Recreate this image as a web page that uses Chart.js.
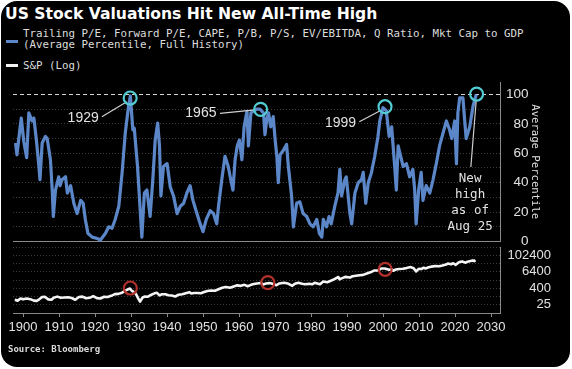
<!DOCTYPE html>
<html>
<head>
<meta charset="utf-8">
<script src="https://cdn.jsdelivr.net/npm/chart.js@4.4.1/dist/chart.umd.min.js"></script>
<style>
  html, body { margin: 0; padding: 0; background: #fff; }
  #wrap { position: relative; width: 572px; height: 369px; overflow: hidden; background: #fff; }
  #card { position: absolute; left: 1px; top: 1px; width: 569px; height: 366px; background: #000; border-radius: 16px; }
  canvas { position: absolute; left: 0; top: 0; }
  .txt { position: absolute; white-space: nowrap; color: #dcdcdc; }
  #title { left: 5px; top: 4px; font: bold 15.6px 'DejaVu Sans', sans-serif; line-height: 20px; color: #fff; }
  .leg { left: 23px; font: 10.8px 'DejaVu Sans Mono', monospace; line-height: 13px; }
  .swatch { position: absolute; left: 6px; width: 12px; height: 3px; }
  #source { left: 8px; top: 343px; font: bold 9px 'DejaVu Sans Mono', monospace; line-height: 13px; }
</style>
</head>
<body>
<div id="wrap">
  <div id="card"></div>
  <div id="title" class="txt">US Stock Valuations Hit New All-Time High</div>
  <div class="swatch" style="top:40px;background:#5b87c9"></div>
  <div class="txt leg" style="top:27px">Trailing P/E, Forward P/E, CAPE, P/B, P/S, EV/EBITDA, Q Ratio, Mkt Cap to GDP</div>
  <div class="txt leg" style="top:38px">(Average Percentile, Full History)</div>
  <div class="swatch" style="top:64px;background:#f2f2f2"></div>
  <div class="txt leg" style="top:59px">S&amp;P (Log)</div>
  <canvas id="topChart" width="572" height="369"></canvas>
  <canvas id="bottomChart" width="572" height="369"></canvas>
  <div id="source" class="txt">Source: Bloomberg</div>
</div>
<script>
// valuation percentile (blue line)
const pctYears = [
  1897.9, 1898.3, 1899.1, 1899.5, 1900.2, 1901.0, 1901.6, 1902.5, 1903.0, 1903.7,
  1904.4, 1904.7, 1905.3, 1906.2, 1906.7, 1907.6, 1908.1, 1908.4, 1909.0, 1909.9,
  1910.3, 1910.8, 1911.8, 1912.3, 1913.2, 1914.1, 1915.0, 1916.0, 1916.7, 1917.3,
  1918.0, 1919.2, 1920.6, 1921.5, 1922.9, 1923.8, 1924.7, 1925.6, 1926.6, 1927.5,
  1928.4, 1929.3, 1929.8, 1930.5, 1930.9, 1931.8, 1932.6, 1933.0, 1933.7, 1934.4,
  1935.3, 1936.1, 1936.7, 1937.4, 1937.9, 1938.3, 1939.0, 1940.0, 1940.9, 1941.8,
  1942.8, 1943.7, 1944.6, 1945.5, 1946.4, 1947.2, 1948.3, 1949.2, 1950.0, 1950.9,
  1952.0, 1952.9, 1953.8, 1954.3, 1955.2, 1956.1, 1957.0, 1957.7, 1958.3, 1958.9,
  1959.5, 1960.1, 1960.8, 1961.4, 1962.2, 1962.6, 1963.3, 1964.0, 1964.9, 1965.8,
  1966.8, 1967.2, 1967.7, 1968.2, 1968.8, 1969.5, 1970.0, 1970.5, 1970.9, 1971.4,
  1972.3, 1973.2, 1973.7, 1974.6, 1975.1, 1976.0, 1976.9, 1977.8, 1978.8, 1979.7,
  1980.6, 1981.6, 1982.3, 1983.0, 1983.4, 1984.3, 1985.0, 1985.6, 1986.6, 1987.5,
  1988.0, 1988.5, 1989.4, 1989.8, 1990.8, 1991.3, 1992.2, 1993.1, 1994.0, 1994.5,
  1995.2, 1995.9, 1996.8, 1997.7, 1998.6, 1999.1, 2000.0, 2000.9, 2001.7, 2002.4,
  2002.8, 2003.3, 2003.7, 2004.2, 2004.9, 2005.6, 2006.5, 2007.4, 2008.3, 2008.8,
  2009.2, 2009.9, 2010.6, 2011.1, 2012.0, 2013.0, 2013.9, 2014.8, 2015.7, 2016.7,
  2017.6, 2018.5, 2019.1, 2019.9, 2020.4, 2020.8, 2021.3, 2022.2, 2022.7, 2023.1,
  2024.1, 2025.0, 2025.9
];
const pctValues = [
  67, 59, 76, 84, 68, 57, 87.5, 82, 84, 69,
  51, 42, 67, 71.5, 70, 55.6, 35, 17, 35, 44,
  38, 42, 44, 33, 38, 26, 19, 28, 26, 15,
  5.6, 3, 2, 1, 5.6, 10, 9, 15, 24, 46.5,
  74, 92, 99, 76, 77, 51, 19, 3, 33, 35,
  17, 44, 69, 80.6, 65, 31, 51, 53, 37, 31,
  19, 24, 26, 33, 38, 28, 19, 12, 6.7, 15,
  21, 19, 12, 24, 42, 58, 51, 42, 35, 55.6,
  65, 69, 55.6, 78, 88.6, 65, 87.5, 88.6, 90, 90,
  87.5, 72.7, 83, 87.5, 78, 85, 70, 58, 40, 59,
  62, 66, 51, 31, 10, 26, 27, 19, 17, 12,
  10, 15, 5.6, 3, 15, 10, 17, 12, 24, 33,
  49, 31, 42, 44, 19, 12, 33, 40, 42, 47,
  26, 40, 47, 58, 71.5, 82, 91, 89, 71.5, 78,
  65, 49, 35, 65, 58, 51, 53, 44, 49, 35,
  12, 35, 47, 28, 38, 33, 42, 53, 65, 74,
  82, 76, 70, 82, 53, 87.5, 97.7, 97.7, 82, 70,
  78, 92, 100
];

// index level (white line, log scale)
const spYears = [
  1897.7, 1898.5, 1899.3, 1900.0, 1901.0, 1902.0, 1903.0, 1903.8, 1904.5, 1905.3,
  1906.0, 1907.0, 1907.9, 1908.5, 1909.5, 1910.5, 1911.5, 1912.5, 1913.5, 1914.5,
  1915.5, 1916.5, 1917.5, 1918.5, 1919.5, 1920.5, 1921.5, 1922.5, 1923.5, 1924.5,
  1925.5, 1926.5, 1927.5, 1928.5, 1929.7, 1930.2, 1930.6, 1931.3, 1931.9, 1932.5,
  1933.2, 1933.9, 1934.6, 1935.5, 1936.5, 1937.2, 1937.9, 1938.6, 1939.5, 1940.4,
  1941.3, 1942.3, 1943.2, 1944.2, 1945.2, 1946.2, 1946.8, 1947.5, 1948.5, 1949.4,
  1950.3, 1951.2, 1952.2, 1953.3, 1954.3, 1955.3, 1956.3, 1957.5, 1958.5, 1959.5,
  1960.5, 1961.5, 1962.4, 1963.5, 1964.5, 1966.0, 1966.7, 1967.5, 1968.5, 1969.5,
  1970.4, 1971.2, 1972.5, 1973.5, 1974.8, 1975.5, 1976.5, 1977.5, 1978.3, 1979.5,
  1980.3, 1981.0, 1982.5, 1983.4, 1984.5, 1985.5, 1986.5, 1987.6, 1987.9, 1988.5,
  1989.5, 1990.8, 1991.5, 1992.5, 1993.5, 1994.5, 1995.5, 1996.5, 1997.5, 1998.7,
  1999.5, 2000.5, 2001.7, 2002.5, 2002.8, 2003.6, 2004.5, 2005.5, 2006.5, 2007.7,
  2008.5, 2009.2, 2009.9, 2010.6, 2011.3, 2011.8, 2012.5, 2013.5, 2014.5, 2015.6,
  2016.5, 2017.5, 2018.0, 2018.9, 2019.5, 2020.2, 2020.9, 2021.5, 2022.0, 2022.8,
  2023.5, 2024.3, 2024.9, 2025.3, 2025.7
];
const spValues = [
  57, 50, 72, 62, 72, 64, 50, 48, 62, 92,
  96, 62, 58, 80, 98, 80, 84, 88, 78, 58,
  92, 98, 74, 80, 106, 76, 72, 96, 92, 112,
  150, 155, 190, 280, 381, 260, 230, 160, 80, 42,
  85, 100, 95, 130, 170, 185, 120, 145, 145, 125,
  118, 100, 135, 145, 175, 205, 165, 178, 180, 172,
  210, 255, 275, 265, 340, 440, 500, 430, 540, 650,
  600, 710, 560, 740, 860, 980, 760, 880, 950, 820,
  660, 900, 1000, 900, 600, 840, 990, 850, 780, 840,
  780, 990, 780, 1230, 1100, 1400, 1850, 2650, 1800, 2100,
  2700, 2400, 3000, 3300, 3600, 3800, 4700, 5800, 7800, 8000,
  11000, 11000, 9000, 9500, 7600, 9300, 10200, 10500, 11800, 14000,
  11500, 6800, 10300, 10200, 12500, 11000, 13000, 15200, 16800, 16000,
  18000, 21500, 25500, 22500, 26800, 20500, 29500, 34500, 36300, 29500,
  34500, 39000, 43000, 38500, 45500
];

const yearTicks = [1900, 1910, 1920, 1930, 1940, 1950, 1960, 1970, 1980, 1990, 2000, 2010, 2020, 2030];
const pctTicks = [0, 10, 20, 30, 40, 50, 60, 70, 80, 90, 100];
const pctLabels = [0, 20, 40, 60, 80, 100];
const logTicks = [6.25, 25, 100, 400, 1600, 6400, 25600, 102400, 409600];
const logLabels = [25, 400, 6400, 102400];

// highlighted peaks: [year, value]
const peakMarks = [[1929.75, 97.6], [1966.0, 89.9], [2000.55, 91.7], [2026.0, 100.3]];
const indexMarks = [[1929.8, 417], [1968.0, 1020], [2000.6, 9700]];

const BLUE = '#5b87c9';
const AXIS = '#8a8a8a';
const GRID = '#3c3c3c';
const TEXT = '#e2e2e2';
const AXIS_FONT = "'Liberation Sans', Arial, sans-serif";
const MONO = "'DejaVu Sans Mono', monospace";
const X_MIN = 1897.2, X_MAX = 2032.5;

// rings, leader lines and callout text, all placed in data units
const marksPlugin = {
  id: 'marks',
  afterDatasetsDraw(chart, args, opts) {
    const { ctx, chartArea, scales: { x, y } } = chart;
    ctx.save();
    (opts.leaders || []).forEach(l => {
      ctx.strokeStyle = opts.leaderColor;
      ctx.lineWidth = 1.2;
      ctx.beginPath();
      ctx.moveTo(x.getPixelForValue(l[0]), y.getPixelForValue(l[1]));
      ctx.lineTo(x.getPixelForValue(l[2]), y.getPixelForValue(l[3]));
      ctx.stroke();
    });
    (opts.rings || []).forEach(r => {
      ctx.strokeStyle = opts.ringColor;
      ctx.lineWidth = 2.2;
      ctx.beginPath();
      ctx.arc(x.getPixelForValue(r[0]), y.getPixelForValue(r[1]), opts.radius, 0, Math.PI * 2);
      ctx.stroke();
    });
    ctx.fillStyle = TEXT;
    ctx.textAlign = 'center';
    ctx.textBaseline = 'middle';
    (opts.labels || []).forEach(l => {
      ctx.font = l.font;
      const px = x.getPixelForValue(l.x), py = y.getPixelForValue(l.y);
      l.lines.forEach((t, i) => ctx.fillText(t, px, py + i * (l.gap || 0)));
    });
    // rotated axis title, reading top to bottom, right of the tick labels
    if (opts.axisTitle) {
      ctx.font = opts.axisTitle.font;
      ctx.translate(chartArea.right + opts.axisTitle.offset, (chartArea.top + chartArea.bottom) / 2);
      ctx.rotate(Math.PI / 2);
      ctx.fillText(opts.axisTitle.text, 0, 0);
    }
    ctx.restore();
  }
};

function fixedWidth(w) { return s => { s.width = w; }; }
function fixedHeight(h) { return s => { s.height = h; }; }

new Chart(document.getElementById('topChart'), {
  type: 'line',
  data: {
    datasets: [{
      data: pctYears.map((x, i) => ({ x, y: pctValues[i] })),
      borderColor: BLUE,
      borderWidth: 3.2,
      borderJoinStyle: 'round',
      pointRadius: 0,
      tension: 0,
      clip: 8
    }]
  },
  options: {
    responsive: false,
    animation: false,
    devicePixelRatio: 1,
    layout: { padding: { left: 13, top: 82, right: 43.5, bottom: 127.5 } },
    plugins: {
      legend: { display: false },
      tooltip: { enabled: false },
      marks: {
        ringColor: '#52cbd2',
        leaderColor: '#cfcfcf',
        radius: 6.5,
        rings: peakMarks,
        leaders: [
          [1921.9, 84.9, 1928.8, 95.1],
          [1954.7, 87.2, 1964.4, 89.5],
          [1993.4, 81.5, 1999.2, 89.0],
          [2024.4, 50.7, 2025.9, 96.3]
        ],
        labels: [
          { x: 1916.7, y: 84.0, lines: ['1929'], font: "14px 'Liberation Sans', sans-serif" },
          { x: 1949.4, y: 87.2, lines: ['1965'], font: "14px 'Liberation Sans', sans-serif" },
          { x: 1988.2, y: 80.8, lines: ['1999'], font: "14px 'Liberation Sans', sans-serif" },
          { x: 2024.2, y: 42.5, lines: ['New', 'high', 'as of', 'Aug 25'], gap: 16, font: "12.5px " + MONO }
        ],
        axisTitle: { text: 'Average Percentile', offset: 35, font: "10.6px " + MONO }
      }
    },
    scales: {
      x: {
        type: 'linear', bounds: 'data', min: X_MIN, max: X_MAX,
        ticks: { display: false },
        grid: { display: false },
        border: { color: AXIS },
        afterFit: fixedHeight(0)
      },
      y: {
        position: 'right', bounds: 'data', min: 0, max: 108.5,
        afterBuildTicks: s => { s.ticks = pctTicks.map(v => ({ value: v })); },
        ticks: {
          color: TEXT, font: { family: AXIS_FONT, size: 13.5 }, crossAlign: 'far', padding: 6, autoSkip: false,
          callback: v => pctLabels.includes(v) ? String(v) : ''
        },
        grid: { drawTicks: false, color: c => (c.tick && c.tick.value === 100) ? '#d6d6d6' : GRID },
        border: { color: AXIS, dash: c => (c.tick && c.tick.value === 100) ? [4, 3] : [1, 2] },
        afterFit: fixedWidth(28.5)
      }
    }
  },
  plugins: [marksPlugin]
});

new Chart(document.getElementById('bottomChart'), {
  type: 'line',
  data: {
    datasets: [{
      data: spYears.map((x, i) => ({ x, y: spValues[i] })),
      borderColor: '#f4f4f4',
      borderWidth: 2.6,
      borderJoinStyle: 'round',
      pointRadius: 0,
      tension: 0
    }]
  },
  options: {
    responsive: false,
    animation: false,
    devicePixelRatio: 1,
    layout: { padding: { left: 13, top: 247, right: 21, bottom: 0 } },
    plugins: {
      legend: { display: false },
      tooltip: { enabled: false },
      marks: { ringColor: '#b3312c', radius: 6.5, rings: indexMarks }
    },
    scales: {
      x: {
        type: 'linear', bounds: 'data', min: X_MIN, max: X_MAX,
        afterBuildTicks: s => { s.ticks = yearTicks.map(v => ({ value: v })); },
        ticks: {
          color: TEXT, font: { family: AXIS_FONT, size: 13 }, padding: 3,
          maxRotation: 0, autoSkip: false, callback: v => String(v)
        },
        grid: { drawOnChartArea: false, drawTicks: true, tickLength: 4, color: AXIS },
        border: { color: AXIS },
        afterFit: fixedHeight(56)
      },
      y: {
        type: 'logarithmic', position: 'right', bounds: 'data', min: 6.25, max: 409600,
        afterBuildTicks: s => { s.ticks = logTicks.map(v => ({ value: v })); },
        ticks: {
          color: TEXT, font: { family: AXIS_FONT, size: 13 }, crossAlign: 'far', padding: 8, autoSkip: false,
          callback: v => logLabels.includes(v) ? String(v) : ''
        },
        grid: { drawTicks: false, color: GRID },
        border: { color: AXIS, dash: [1, 2] },
        afterFit: fixedWidth(51)
      }
    }
  },
  plugins: [marksPlugin]
});
</script>
</body>
</html>
